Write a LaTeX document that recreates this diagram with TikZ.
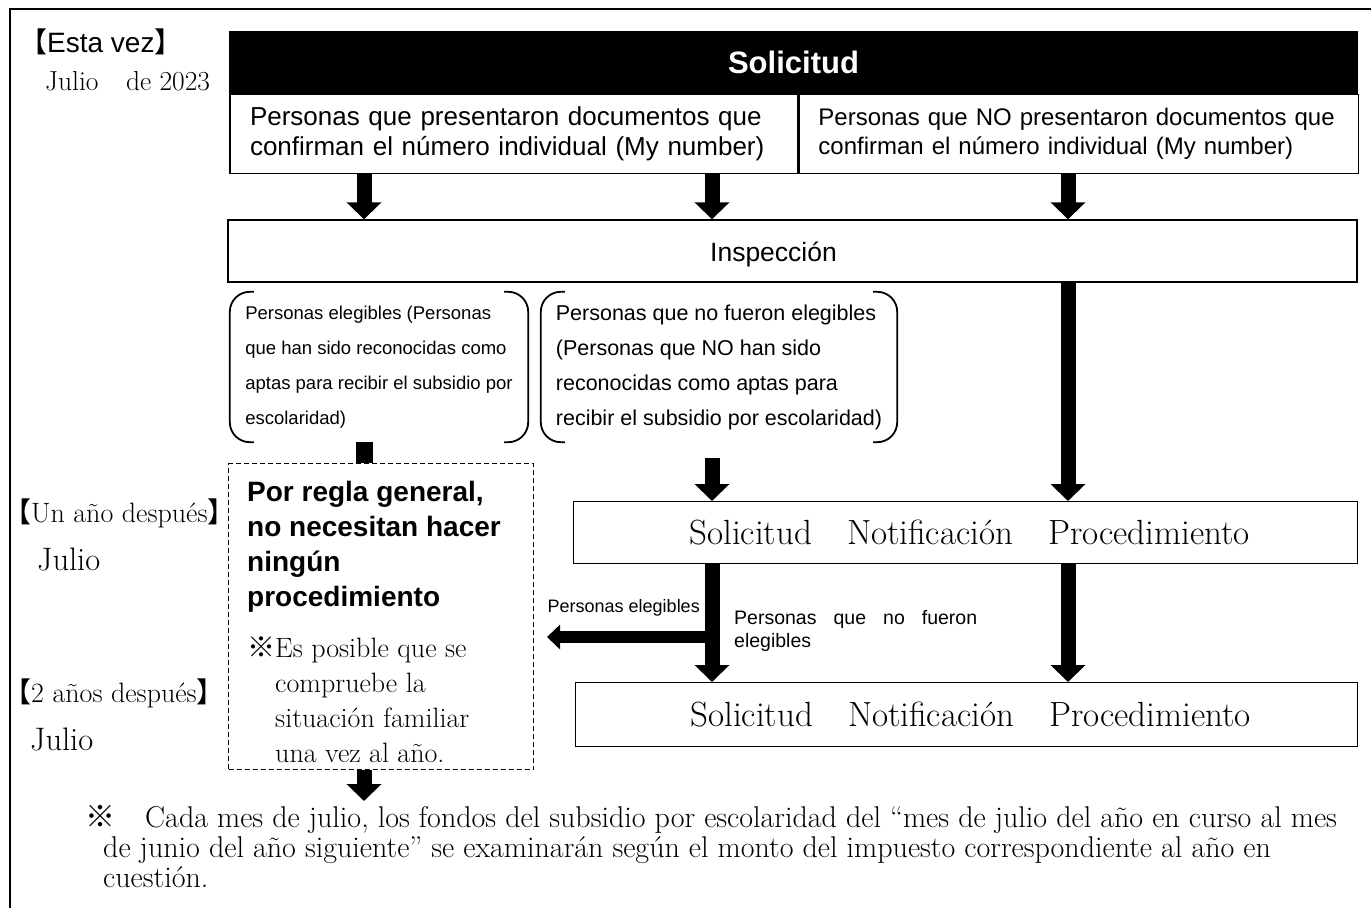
\documentclass[tikz,border=0pt]{standalone}
\usepackage{fontspec}
\setsansfont{Liberation Sans}
\newfontfamily\cjk{Noto Sans CJK JP}
\usetikzlibrary{arrows.meta,positioning}

\newcommand{\setfs}[2]{\fontsize{#1}{#2}\selectfont}

\tikzset{
  box/.style={draw,line width=1.4pt,inner sep=0pt},
  txt/.style={inner sep=0pt,anchor=base west},
  downarrow/.style={line width=15pt,-{Triangle[width=34pt,length=17pt]}},
  sidearrow/.style={line width=12pt,-{Triangle[width=24pt,length=13pt]}},
  stub/.style={line width=17pt},
  bracket/.style={line width=1.8pt,rounded corners=20pt},
}

\begin{document}
\begin{tikzpicture}[x=1pt,y=-1pt]
  \useasboundingbox (0,0) rectangle (1371,908);
  \draw[line width=1.4pt] (1371,9) -- (10,9) -- (10,908);

  \coordinate (c1) at (364,0);
  \coordinate (c2) at (712,0);
  \coordinate (c3) at (1068,0);

  % time labels
  \node[txt,font=\sffamily\setfs{28}{32}] (now) at (19,52) {{\cjk 【}Esta vez{\cjk 】}};
  \node[txt,font=\setfs{27.5}{30}] (nowdate) at (45,90) {Julio\hspace{1em}de 2023};
  \node[txt,font=\setfs{28}{30}] (year1) at (3,522) {{\cjk 【}Un año después{\cjk 】}};
  \node[txt,font=\setfs{32.5}{34}] (year1m) at (37,570) {Julio};
  \node[txt,font=\setfs{28}{30}] (year2) at (3,702) {{\cjk 【}2 años después{\cjk 】}};
  \node[txt,font=\setfs{32.5}{34}] (year2m) at (30,750) {Julio};

  % application
  \node[box,fill=black,text=white,minimum width=1127pt,minimum height=61pt,
    font=\sffamily\bfseries\setfs{31}{36}] (sol) at (793.5,62.5) {Solicitud};
  \node[box,anchor=north west,minimum width=568pt,minimum height=79pt,text width=528pt,
    align=left,font=\sffamily\setfs{26}{30}] (yes) at (sol.south west)
    {Personas que presentaron documentos que\\confirman el número individual (My number)};
  \node[box,anchor=north west,minimum width=559pt,minimum height=79pt,text width=521pt,
    align=left,font=\sffamily\setfs{24}{29}] (no) at (yes.north east)
    {Personas que NO presentaron documentos que\\confirman el número individual (My number)};

  \node[box,minimum width=1129pt,minimum height=62pt] (insp) at (792.5,251) {};
  \node[xshift=-19pt,yshift=-3pt,font=\sffamily\setfs{26.5}{32}] (insptxt) at (insp.center) {Inspección};
  \foreach \c/\s in {c1/yes,c2/yes,c3/no}
    \draw[downarrow] (\c |- \s.south) -- (\c |- insp.north);

  % results
  \node[minimum width=298pt,minimum height=150pt,inner sep=0pt,align=left,
    font=\sffamily\setfs{18.5}{35}] (elig) at (379,367)
    {Personas elegibles (Personas\\que han sido reconocidas como\\aptas para recibir el subsidio por\\escolaridad)};
  \node[minimum width=356pt,minimum height=150pt,inner sep=0pt,align=left,
    font=\sffamily\setfs{21.5}{35}] (noelig) at (719,367)
    {Personas que no fueron elegibles\\(Personas que NO han sido\\reconocidas como aptas para\\recibir el subsidio por escolaridad)};
  \foreach \b in {elig,noelig} {
    \draw[bracket] ([xshift=24pt]\b.north west) -| (\b.south west) -- ([xshift=24pt]\b.south west);
    \draw[bracket] ([xshift=-24pt]\b.north east) -| (\b.south east) -- ([xshift=-24pt]\b.south east);
  }

  % no procedure
  \node[box,dash pattern=on 5pt off 3pt,anchor=north west,minimum width=305pt,minimum height=306pt] (exempt) at (228,463) {};
  \draw[stub] (c1 |- elig.south) -- (c1 |- exempt.north);
  \node[txt,font=\sffamily\bfseries\setfs{28}{35}] (general) at (247,501)
    {\begin{tabular}[t]{@{}l@{}}Por regla general,\\no necesitan hacer\\ningún\\procedimiento\end{tabular}};
  \node[txt,font=\setfs{28}{35}] (check) at (247,657)
    {\begin{tabular}[t]{@{}l@{}l@{}}{\cjk ※}&Es posible que se\\&compruebe la\\&situación familiar\\&una vez al año.\end{tabular}};
  \coordinate (foot) at (364,801);
  \draw[downarrow] (c1 |- exempt.south) -- (foot);

  % procedures
  \node[box,anchor=north west,minimum width=784pt,minimum height=62pt,font=\setfs{35}{38}] (proc1) at (573,501)
    {\hspace*{8pt}Solicitud\hspace{1em}Notificación\hspace{1em}Procedimiento};
  \node[box,anchor=north west,minimum width=782pt,minimum height=64pt,font=\setfs{35}{38}] (proc2) at (575,682)
    {\hspace*{8pt}Solicitud\hspace{1em}Notificación\hspace{1em}Procedimiento};
  \coordinate (n0) at (712,458);
  \coordinate (br) at (712,637);
  \coordinate (brtip) at (547,637);
  \draw[downarrow] (n0) -- (c2 |- proc1.north);
  \draw[downarrow] (c3 |- insp.south) -- (c3 |- proc1.north);
  \draw[sidearrow] (br) -- (brtip);
  \draw[downarrow] (c2 |- proc1.south) -- (c2 |- proc2.north);
  \draw[downarrow] (c3 |- proc1.south) -- (c3 |- proc2.north);
  \node[inner sep=0pt,anchor=base east,font=\sffamily\setfs{18}{22}] (yeslbl) at (700,612) {Personas elegibles};
  \node[txt,font=\sffamily\setfs{19.5}{23}] (nolbl) at (734,624)
    {\begin{tabular}[t]{@{}l@{}}\makebox[243pt][s]{Personas que no fueron}\\elegibles\end{tabular}};

  % note
  \node[txt,font=\setfs{30}{30}] (note) at (85,827)
    {\begin{tabular}[t]{@{}l@{}}{\cjk ※}\hspace{1em}Cada mes de julio, los fondos del subsidio por escolaridad del “mes de julio del año en curso al mes\\
    \hspace*{18pt}de junio del año siguiente” se examinarán según el monto del impuesto correspondiente al año en\\
    \hspace*{18pt}cuestión.\end{tabular}};
\end{tikzpicture}
\end{document}
